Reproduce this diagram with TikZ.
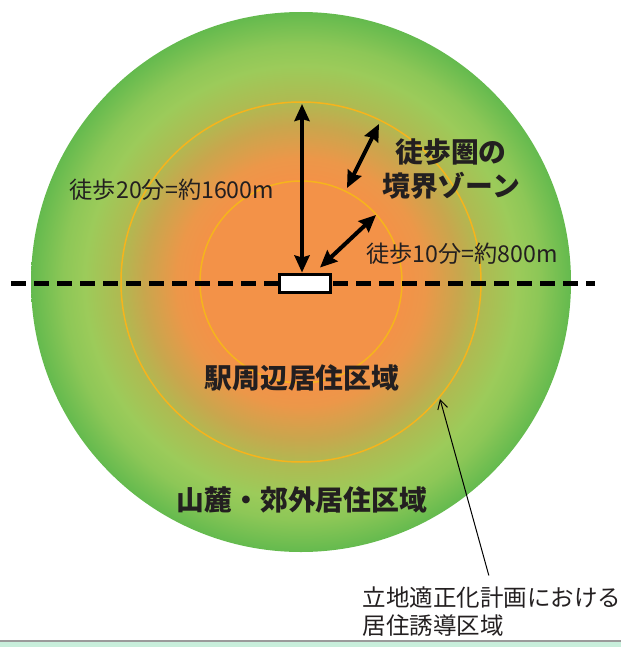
\documentclass[tikz,border=0pt]{standalone}
\usepackage{fontspec}
\usepackage{tikz}
\usetikzlibrary{arrows.meta}
\newfontfamily\jpfont{Noto Sans CJK JP}
\definecolor{zoneorange}{HTML}{F39248}
\definecolor{zonewarm}{HTML}{EC9749}
\definecolor{zoneolive}{HTML}{C9A64D}
\definecolor{zonekhaki}{HTML}{AEBB52}
\definecolor{zonelight}{HTML}{9CCB5A}
\definecolor{zonegreen}{HTML}{8DC757}
\definecolor{zoneedge}{HTML}{64BA4E}
\definecolor{ringyellow}{HTML}{F6B41C}
\definecolor{labeltext}{HTML}{231F20}
\definecolor{mintband}{HTML}{C8EEDB}
\definecolor{bandline}{HTML}{9A9A9A}
\pgfdeclareradialshading{walkzone}{\pgfpoint{0bp}{0bp}}{color(0bp)=(zoneorange); color(9.5bp)=(zoneorange); color(11.5bp)=(zonewarm); color(14.5bp)=(zoneolive); color(17bp)=(zonekhaki); color(20bp)=(zonelight); color(22bp)=(zonegreen); color(25bp)=(zoneedge); color(50bp)=(zoneedge)}

\begin{document}
\begin{tikzpicture}[x=1pt, y=-1pt,
    ring/.style={draw=ringyellow, line width=1.5pt},
    walk/.style={line width=4pt, {Stealth[length=17pt,width=15pt,inset=2pt]}-{Stealth[length=17pt,width=15pt,inset=2pt]}},
    rail/.style={line width=5pt, dash pattern=on 15pt off 8pt},
    pointer/.style={line width=1pt, -{Straight Barb[length=9pt,width=10pt]}},
    lbl/.style={text=labeltext, font=\jpfont\fontsize{23.2}{27}\selectfont, inner sep=0pt},
    zonelbl/.style={text=labeltext, font=\jpfont\bfseries\fontsize{27.8}{34}\selectfont, inner sep=0pt}]
        \useasboundingbox (0,0) rectangle (621,647);
        \coordinate (c) at (301,282);
        \shade[shading=walkzone] (c) circle[radius=270];
        \draw[ring] (c) circle[radius=180];
        \draw[ring] (c) circle[radius=101];
        \coordinate (railw) at (11,283);
        \coordinate (raile) at (595,283);
        \draw[rail] (railw) -- (raile);
        \node[draw, line width=3pt, fill=white, minimum width=51pt, minimum height=18pt, inner sep=0pt] (station) at (305,283) {};
        \coordinate (midtop) at (302,104);
        \coordinate (innerpt) at (376,215);
        \coordinate (innerB) at (347,188);
        \coordinate (midB) at (379,124);
        \draw[walk] (station.north -| midtop) -- (midtop);
        \draw[walk] ([xshift=-12pt,yshift=5pt]station.north east) -- (innerpt);
        \draw[walk] (innerB) -- (midB);
        \node[lbl] (walk20) at (172,190) {徒歩20分=約1600m};
        \node[lbl] (walk10) at (462,254) {徒歩10分=約800m};
        \node[zonelbl, align=center] (border) at (451,169) {徒歩圏の\\境界ゾーン};
        \node[zonelbl] (nearzone) at (302,378) {駅周辺居住区域};
        \node[zonelbl] (outerzone) at (302,500) {山麓・郊外居住区域};
        \node[text=labeltext, font=\jpfont\fontsize{23.5}{28}\selectfont, inner sep=0pt, align=left] (guide) at (492,612) {立地適正化計画における\\居住誘導区域};
        \coordinate (ringpt) at (440,399);
        \draw[pointer, shorten <=12pt] (guide.north) -- (ringpt);
        \fill[mintband] (0,641) rectangle (621,647);
        \draw[bandline, line width=1.2pt] (0,641) -- (621,641);
      \end{tikzpicture}
\end{document}
